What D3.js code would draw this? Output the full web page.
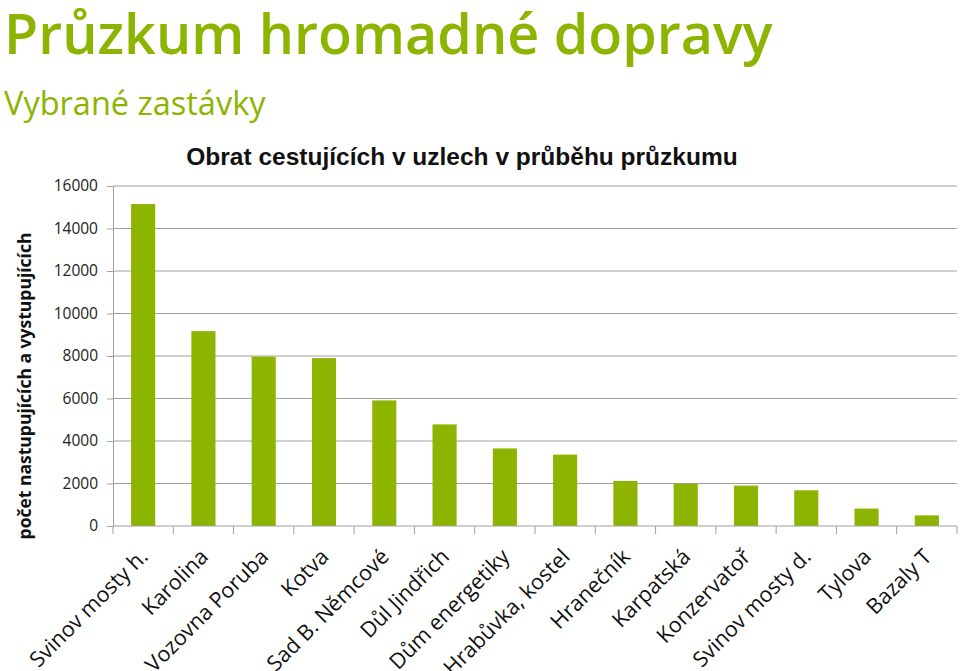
<!DOCTYPE html>
<html>
<head>
<meta charset="utf-8">
<script src="https://cdn.jsdelivr.net/npm/d3@7"></script>
<style>
  body { margin: 0; background: #fff; }
  text { font-family: "Open Sans", sans-serif; }
</style>
</head>
<body>
<div id="root"></div>
<script>
const stops = ["Svinov mosty h.", "Karolina", "Vozovna Poruba", "Kotva", "Sad B. Němcové",
  "Důl Jindřich", "Dům energetiky", "Hrabůvka, kostel", "Hranečník", "Karpatská",
  "Konzervatoř", "Svinov mosty d.", "Tylova", "Bazaly T"];
const passengers = [15150, 9170, 7970, 7900, 5910, 4780, 3650, 3360, 2120, 1990, 1900, 1680, 820, 500];
const yTicks = [0, 2000, 4000, 6000, 8000, 10000, 12000, 14000, 16000];

const W = 960, H = 671;
const margin = { top: 186, right: 3, bottom: 145, left: 113 };
const width = W - margin.left - margin.right;
const height = H - margin.top - margin.bottom;
const green = "#8cb400";

const svg = d3.select("#root").append("svg")
  .attr("width", W)
  .attr("height", H);

svg.append("text")
  .attr("x", 4).attr("y", 54)
  .attr("fill", green)
  .attr("font-size", 55.6)
  .attr("font-weight", 600)
  .text("Průzkum hromadné dopravy");

svg.append("text")
  .attr("x", 4).attr("y", 115)
  .attr("fill", green)
  .attr("font-size", 32.5)
  .text("Vybrané zastávky");

svg.append("text")
  .attr("x", 462).attr("y", 165)
  .attr("text-anchor", "middle")
  .attr("font-size", 24.5)
  .attr("font-weight", 700)
  .attr("fill", "#111")
  .style("font-family", "'Liberation Sans', Arial, sans-serif")
  .text("Obrat cestujících v uzlech v průběhu průzkumu");

svg.append("text")
  .attr("transform", `translate(31, ${margin.top + height / 2 + 30}) rotate(-90)`)
  .attr("text-anchor", "middle")
  .attr("font-size", 17.5)
  .attr("font-weight", 700)
  .attr("fill", "#111")
  .text("počet nastupujících a vystupujících");

const x = d3.scaleBand().domain(stops).range([0, width]).paddingInner(0.6).paddingOuter(0.3);
const xTick = d3.scaleBand().domain(stops).range([0, width]);
const y = d3.scaleLinear().domain([0, 16000]).range([height, 0]);

const g = svg.append("g").attr("transform", `translate(${margin.left},${margin.top})`);

// gridlines
g.selectAll(".grid").data(yTicks.slice(1)).enter().append("line")
  .attr("class", "grid")
  .attr("x1", 0).attr("x2", width)
  .attr("y1", d => y(d)).attr("y2", d => y(d))
  .attr("stroke", "#a0a0a0").attr("stroke-width", 1);

const yAxis = g.append("g")
  .call(d3.axisLeft(y).tickValues(yTicks).tickSize(6).tickPadding(9).tickFormat(d3.format("d")));
yAxis.select(".domain").attr("stroke", "#a0a0a0");
yAxis.selectAll(".tick line").attr("stroke", "#a0a0a0");
yAxis.selectAll("text").attr("font-size", 15.5).attr("fill", "#222")
  .style("font-family", "'Open Sans', sans-serif");

g.selectAll(".bar").data(passengers).enter().append("rect")
  .attr("class", "bar")
  .attr("x", (d, i) => x(stops[i]))
  .attr("y", d => y(d))
  .attr("width", x.bandwidth())
  .attr("height", d => height - y(d))
  .attr("fill", green);

// x axis with ticks on band boundaries
const xAxis = g.append("g").attr("transform", `translate(0,${height})`);
xAxis.append("line").attr("x1", 0).attr("x2", width).attr("stroke", "#a0a0a0");
xAxis.selectAll(".xt").data(stops.concat([null])).enter().append("line")
  .attr("class", "xt")
  .attr("x1", (d, i) => i * xTick.step()).attr("x2", (d, i) => i * xTick.step())
  .attr("y1", 0).attr("y2", 8)
  .attr("stroke", "#a0a0a0");

xAxis.selectAll(".xl").data(stops).enter().append("text")
  .attr("class", "xl")
  .attr("transform", d => `translate(${xTick(d) + xTick.bandwidth() / 2 + 6},${32}) rotate(-45)`)
  .attr("text-anchor", "end")
  .attr("font-size", 21.5)
  .attr("fill", "#111")
  .text(d => d);
</script>
</body>
</html>
